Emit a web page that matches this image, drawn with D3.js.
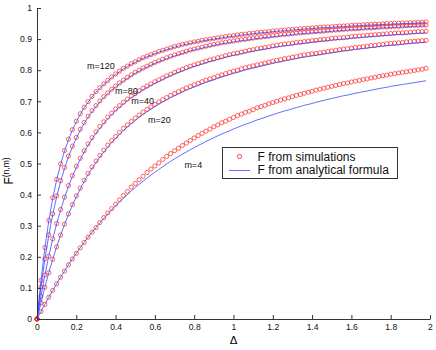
<!DOCTYPE html>
<html><head><meta charset="utf-8">
<script src="https://cdn.jsdelivr.net/npm/d3@7"></script>
<style>
body{margin:0;background:#fff}
svg{display:block}
text{font-family:"Liberation Sans",Arial,Helvetica,sans-serif}
</style>
</head><body>
<svg id="chart" width="436" height="350"></svg>
<script>
// x grid: Δ = 0, 0.02, ..., 1.98
const DELTA = d3.range(100).map(i => Math.round(i * 2) / 100);
const X_TICKS = [0, 0.2, 0.4, 0.6, 0.8, 1, 1.2, 1.4, 1.6, 1.8, 2];
const Y_TICKS = [0, 0.1, 0.2, 0.3, 0.4, 0.5, 0.6, 0.7, 0.8, 0.9, 1];
const M_LABELS = ["m=4", "m=20", "m=40", "m=80", "m=120"];
const LEGEND_LABELS = ["F from simulations", "F from analytical formula"];

// F from simulations
const SIM_M4 = [0,.024,.047,.070,.092,.113,.134,.154,.174,.193,
.211,.229,.246,.263,.279,.294,.310,.326,.341,.355,
.369,.383,.397,.410,.424,.436,.448,.459,.471,.482,
.492,.502,.513,.523,.532,.541,.549,.558,.566,.574,
.582,.590,.597,.604,.611,.618,.624,.631,.636,.642,
.648,.654,.659,.664,.668,.673,.679,.683,.687,.692,
.696,.700,.704,.708,.711,.715,.719,.722,.726,.729,
.732,.736,.739,.742,.745,.748,.751,.754,.757,.759,
.762,.765,.767,.770,.772,.775,.777,.780,.782,.784,
.787,.789,.791,.793,.795,.797,.799,.801,.803,.806];
const SIM_M20 = [0,.052,.102,.149,.192,.232,.270,.305,.338,.368,
.396,.421,.446,.468,.489,.508,.526,.543,.559,.574,
.587,.600,.613,.624,.635,.646,.656,.665,.674,.682,
.690,.698,.705,.712,.719,.725,.731,.737,.743,.748,
.753,.758,.763,.768,.772,.776,.781,.785,.789,.793,
.797,.800,.804,.808,.811,.814,.817,.820,.823,.826,
.829,.832,.834,.837,.839,.842,.844,.847,.849,.851,
.853,.854,.856,.858,.860,.862,.864,.866,.868,.869,
.871,.873,.874,.876,.877,.879,.880,.882,.883,.885,
.886,.887,.888,.889,.891,.892,.893,.894,.895,.896];
const SIM_M40 = [0,.073,.141,.202,.258,.307,.352,.392,.429,.461,
.491,.517,.541,.563,.583,.602,.619,.634,.649,.662,
.675,.686,.697,.707,.717,.725,.734,.742,.749,.756,
.763,.769,.775,.782,.787,.793,.798,.803,.808,.813,
.817,.821,.825,.829,.833,.836,.840,.843,.847,.850,
.853,.855,.858,.861,.864,.866,.869,.871,.873,.875,
.878,.880,.882,.884,.885,.887,.889,.890,.892,.893,
.895,.896,.898,.899,.900,.902,.903,.904,.905,.906,
.908,.909,.910,.911,.912,.913,.914,.915,.916,.917,
.918,.919,.920,.920,.921,.922,.923,.924,.924,.925];
const SIM_M80 = [0,.103,.193,.271,.338,.396,.445,.487,.524,.556,
.584,.610,.632,.652,.670,.686,.701,.715,.727,.739,
.749,.759,.768,.777,.785,.793,.800,.807,.813,.819,
.825,.830,.835,.840,.845,.849,.853,.857,.861,.865,
.868,.871,.874,.877,.880,.883,.885,.888,.890,.892,
.894,.896,.898,.899,.901,.903,.905,.906,.908,.909,
.911,.912,.914,.915,.916,.917,.919,.920,.921,.922,
.923,.924,.925,.926,.927,.928,.929,.930,.931,.932,
.933,.933,.934,.935,.936,.936,.937,.938,.939,.939,
.940,.941,.941,.942,.943,.943,.944,.944,.945,.945];
const SIM_M120 = [0,.124,.230,.317,.390,.449,.499,.542,.578,.609,
.636,.660,.681,.699,.716,.731,.744,.756,.767,.778,
.788,.797,.806,.813,.821,.827,.834,.840,.845,.850,
.855,.860,.864,.868,.872,.876,.879,.883,.885,.888,
.891,.893,.896,.898,.900,.902,.904,.906,.908,.910,
.911,.913,.915,.916,.918,.919,.921,.922,.923,.924,
.926,.927,.928,.929,.930,.931,.932,.933,.934,.935,
.936,.937,.938,.939,.939,.940,.941,.942,.942,.943,
.944,.945,.945,.946,.947,.947,.948,.948,.949,.950,
.950,.951,.951,.952,.952,.953,.953,.954,.954,.955];

// F from analytical formula
const LINE_M4 = [0,.024,.047,.070,.092,.113,.134,.154,.174,.193,
.211,.229,.246,.263,.279,.294,.309,.324,.338,.351,
.364,.376,.389,.400,.412,.423,.433,.443,.453,.463,
.472,.481,.490,.499,.507,.515,.522,.530,.537,.544,
.551,.558,.564,.571,.577,.583,.589,.595,.600,.605,
.611,.616,.621,.626,.630,.635,.640,.644,.648,.653,
.657,.661,.665,.669,.672,.676,.680,.683,.687,.690,
.693,.697,.700,.703,.706,.709,.712,.715,.718,.720,
.723,.726,.728,.731,.733,.736,.738,.741,.743,.745,
.748,.750,.752,.754,.756,.758,.760,.762,.764,.766];
const LINE_M20 = [0,.052,.102,.149,.192,.232,.269,.304,.336,.366,
.393,.418,.442,.464,.484,.503,.521,.537,.553,.568,
.581,.594,.607,.618,.629,.639,.649,.658,.667,.675,
.683,.691,.698,.705,.712,.718,.724,.730,.736,.741,
.746,.751,.756,.761,.765,.769,.774,.778,.782,.786,
.790,.793,.797,.801,.804,.807,.810,.813,.816,.819,
.822,.825,.827,.830,.832,.835,.837,.840,.842,.844,
.846,.848,.850,.852,.854,.856,.858,.860,.862,.863,
.865,.867,.868,.870,.871,.873,.874,.876,.877,.879,
.880,.881,.882,.883,.885,.886,.887,.888,.889,.890];
const LINE_M40 = [0,.073,.141,.202,.257,.306,.350,.390,.426,.458,
.487,.513,.537,.559,.579,.597,.614,.629,.644,.657,
.670,.681,.692,.702,.712,.720,.729,.737,.744,.751,
.758,.764,.770,.777,.782,.788,.793,.798,.803,.808,
.812,.816,.820,.824,.828,.831,.835,.838,.842,.845,
.848,.850,.853,.856,.859,.861,.864,.866,.868,.870,
.873,.875,.877,.879,.880,.882,.884,.885,.887,.888,
.890,.891,.893,.894,.895,.897,.898,.899,.900,.901,
.903,.904,.905,.906,.907,.908,.909,.910,.911,.912,
.913,.914,.915,.915,.916,.917,.918,.919,.919,.920];
const LINE_M80 = [0,.102,.192,.269,.336,.393,.442,.484,.521,.553,
.581,.607,.629,.649,.667,.683,.698,.712,.724,.736,
.746,.756,.765,.774,.782,.790,.797,.804,.810,.816,
.822,.827,.832,.837,.842,.846,.850,.854,.858,.862,
.865,.868,.871,.874,.877,.880,.882,.885,.887,.889,
.891,.893,.895,.896,.898,.900,.902,.903,.905,.906,
.908,.909,.911,.912,.913,.914,.916,.917,.918,.919,
.920,.921,.922,.923,.924,.925,.926,.927,.928,.929,
.930,.930,.931,.932,.933,.933,.934,.935,.936,.936,
.937,.938,.938,.939,.940,.940,.941,.941,.942,.942];
const LINE_M120 = [0,.123,.228,.315,.388,.447,.497,.540,.576,.607,
.634,.658,.679,.697,.714,.729,.742,.754,.765,.776,
.786,.795,.804,.811,.819,.825,.832,.838,.843,.848,
.853,.858,.862,.866,.870,.874,.877,.881,.883,.886,
.889,.891,.894,.896,.898,.900,.902,.904,.906,.908,
.909,.911,.913,.914,.916,.917,.919,.920,.921,.922,
.924,.925,.926,.927,.928,.929,.930,.931,.932,.933,
.934,.935,.936,.937,.937,.938,.939,.940,.940,.941,
.942,.943,.943,.944,.945,.945,.946,.946,.947,.948,
.948,.949,.949,.950,.950,.951,.951,.952,.952,.953];

const SIM_SERIES = [SIM_M4, SIM_M20, SIM_M40, SIM_M80, SIM_M120];
const LINE_SERIES = [LINE_M4, LINE_M20, LINE_M40, LINE_M80, LINE_M120];
// label anchor points (in data units) for the m= annotations
const LABEL_POS = [[0.75, 0.487], [0.565, 0.630], [0.48, 0.690], [0.397, 0.725], [0.255, 0.804]];

const RED = "#ff1a1a", BLUE = "#3040ff";
const svg = d3.select("#chart");
const x = d3.scaleLinear().domain([0, 2]).range([37, 430]);
const y = d3.scaleLinear().domain([0, 1]).range([319, 8]);

// circles (simulations)
const simG = svg.append("g");
SIM_SERIES.forEach(s => {
  simG.append("g").selectAll("circle").data(s).join("circle")
    .attr("cx", (d, i) => x(DELTA[i])).attr("cy", d => y(d)).attr("r", 2.1)
    .attr("fill", "none").attr("stroke", RED).attr("stroke-width", 0.8).attr("stroke-opacity", 0.85);
});

// analytical lines
const line = d3.line().x((d, i) => x(DELTA[i])).y(d => y(d));
LINE_SERIES.forEach(s => {
  svg.append("path").datum(s).attr("d", line)
    .attr("fill", "none").attr("stroke", BLUE).attr("stroke-width", 0.9).attr("stroke-opacity", 0.85);
});

// axes
const fmt = d => String(d);
const gx = svg.append("g").attr("transform", "translate(0,319)")
  .call(d3.axisBottom(x).tickValues(X_TICKS).tickFormat(fmt).tickSizeInner(-4).tickSizeOuter(0).tickPadding(5));
const gy = svg.append("g").attr("transform", "translate(37,0)")
  .call(d3.axisLeft(y).tickValues(Y_TICKS).tickFormat(fmt).tickSizeInner(-4).tickSizeOuter(0).tickPadding(5));
[gx, gy].forEach(g => {
  g.selectAll("path,line").attr("stroke", "#333");
  g.selectAll("text").attr("font-size", 8.6).attr("fill", "#111")
    .attr("font-family", "'Liberation Sans', Arial, sans-serif");
});

// m= labels
svg.append("g").selectAll("text").data(M_LABELS).join("text")
  .attr("x", (d, i) => x(LABEL_POS[i][0])).attr("y", (d, i) => y(LABEL_POS[i][1]))
  .attr("font-size", 9).attr("fill", "#111").text(d => d);

// axis titles
svg.append("text").attr("x", x(1)).attr("y", 344).attr("text-anchor", "middle")
  .attr("font-family", "'Liberation Serif', 'DejaVu Serif', serif").attr("font-size", 11.5).text("Δ");
const yl = svg.append("text").attr("transform", "translate(13,171) rotate(-90)")
  .attr("text-anchor", "middle").attr("font-size", 12);
yl.append("tspan").text("F");
yl.append("tspan").attr("dy", -4.5).attr("font-size", 8.5).text("(n,m)");

// legend
const lg = svg.append("g");
lg.append("rect").attr("x", 222.5).attr("y", 147.5).attr("width", 175).attr("height", 31)
  .attr("fill", "#fff").attr("stroke", "#333").attr("stroke-width", 1);
lg.append("circle").attr("cx", 239.5).attr("cy", 156.5).attr("r", 2.1)
  .attr("fill", "none").attr("stroke", RED).attr("stroke-width", 0.8);
lg.append("line").attr("x1", 229).attr("x2", 250).attr("y1", 170.5).attr("y2", 170.5)
  .attr("stroke", BLUE).attr("stroke-width", 0.9).attr("stroke-opacity", 0.85);
lg.selectAll("text.leg").data(LEGEND_LABELS).join("text").attr("class", "leg")
  .attr("x", 257.5).attr("y", (d, i) => 160.8 + i * 13.4)
  .attr("font-size", 12).attr("fill", "#111").text(d => d);
</script>
</body></html>
